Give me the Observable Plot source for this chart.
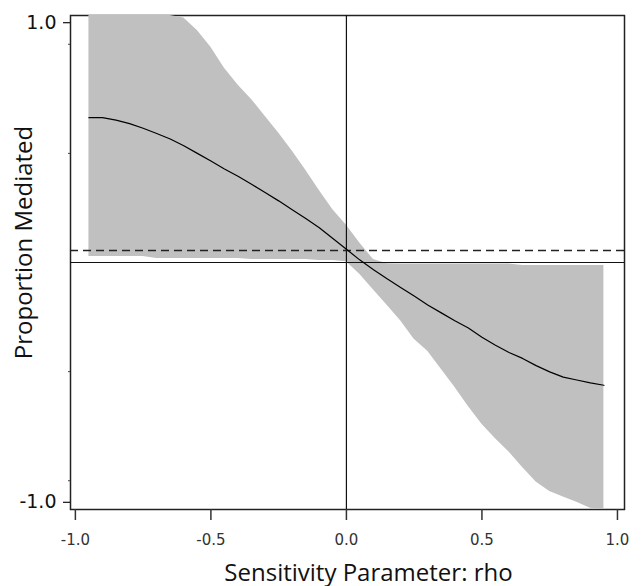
<!DOCTYPE html>
<html><head><meta charset="utf-8">
<script src="https://cdn.jsdelivr.net/npm/d3@7"></script>
<script src="https://cdn.jsdelivr.net/npm/@observablehq/plot@0.6"></script>
<style>body{margin:0;background:#fff}</style>
</head><body><div id="chart"></div>
<script>
const rho = [-0.95,-0.9,-0.85,-0.8,-0.75,-0.7,-0.65,-0.6,-0.55,-0.5,-0.45,-0.4,-0.35,-0.3,-0.25,-0.2,-0.15,-0.1,-0.05,0,0.05,0.1,0.15,0.2,0.25,0.3,0.35,0.4,0.45,0.5,0.55,0.6,0.65,0.7,0.75,0.8,0.85,0.9,0.95];
const upper = [1.03,1.03,1.03,1.03,1.03,1.03,1.03,1.02,0.967,0.898,0.81,0.74,0.68,0.61,0.54,0.465,0.385,0.30,0.22,0.155,0.08,0.012,-0.005,-0.006,-0.006,-0.006,-0.006,-0.006,-0.006,-0.006,-0.006,-0.006,-0.013,-0.013,-0.013,-0.013,-0.013,-0.013,-0.013];
const lower = [0.025,0.025,0.025,0.025,0.025,0.017,0.017,0.017,0.017,0.017,0.017,0.017,0.012,0.012,0.012,0.012,0.012,0.008,0.008,0.003,-0.05,-0.115,-0.178,-0.243,-0.32,-0.37,-0.445,-0.52,-0.6,-0.675,-0.735,-0.79,-0.855,-0.915,-0.955,-0.978,-1.0,-1.025,-1.03];
const estimate = [0.604,0.604,0.594,0.579,0.56,0.538,0.515,0.487,0.455,0.423,0.39,0.36,0.326,0.292,0.257,0.22,0.183,0.145,0.10,0.055,0.01,-0.03,-0.068,-0.104,-0.14,-0.177,-0.21,-0.243,-0.273,-0.312,-0.345,-0.375,-0.40,-0.43,-0.456,-0.478,-0.49,-0.502,-0.512];
const xTicks = [-1, -0.5, 0, 0.5, 1];
const yTicks = [-1, 1];
const yMinorTicks = [-0.91, -0.455, 0.455, 0.91];
const dashedRef = [0.05];
const zeroRef = [0];
const xTitle = "Sensitivity Parameter: rho";
const yTitle = "Proportion Mediated";

const rows = rho.map((r, i) => ({rho: r, lo: lower[i], hi: upper[i], est: estimate[i]}));
const fmt = d => d.toFixed(1);

const chart = Plot.plot({
  width: 641, height: 586,
  marginTop: 15, marginBottom: 77, marginLeft: 70, marginRight: 17,
  x: {domain: [-1.018, 1.026]},
  y: {domain: [-1.03, 1.03]},
  style: {background: "#fff", fontFamily: "DejaVu Sans"},
  marks: [
    Plot.frame({stroke: "#222", strokeWidth: 1.5}),
    Plot.areaY(rows, {x: "rho", y1: "lo", y2: "hi", fill: "#c0c0c0"}),
    Plot.ruleY(zeroRef, {stroke: "#111", strokeWidth: 1.2}),
    Plot.ruleX(zeroRef, {stroke: "#111", strokeWidth: 1.2}),
    Plot.ruleY(dashedRef, {stroke: "#222", strokeWidth: 1.5, strokeDasharray: "8,5"}),
    Plot.lineY(rows, {x: "rho", y: "est", stroke: "#000", strokeWidth: 1.2}),
    Plot.axisX({ticks: xTicks, tickFormat: fmt, tickSize: 11, tickPadding: 14, label: null, fontSize: 15, color: "#333", strokeWidth: 1.5}),
    Plot.axisY({ticks: yTicks, tickFormat: fmt, tickSize: 7, tickPadding: 7, label: null, fontSize: 19, color: "#111", strokeWidth: 1.2}),
    Plot.axisY({ticks: yMinorTicks, tickFormat: null, tickSize: 2, label: null, text: null, color: "#444"}),
    Plot.text([xTitle], {frameAnchor: "bottom", dx: 21, dy: 71, fontSize: 24, fontFamily: "Open Sans", fill: "#111"}),
    Plot.text([yTitle], {frameAnchor: "left", textAnchor: "middle", dx: -46, dy: -20, rotate: -90, fontSize: 24, fontFamily: "Open Sans", fill: "#111"})
  ]
});
document.getElementById("chart").appendChild(chart);
</script>
</body></html>
